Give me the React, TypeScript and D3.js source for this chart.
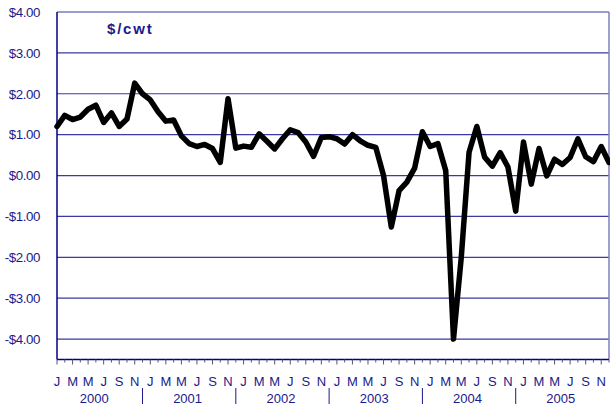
import React from "react";
import * as d3 from "d3";

const years = ["2000", "2001", "2002", "2003", "2004", "2005"];
const monthLetters = ["J", "F", "M", "A", "M", "J", "J", "A", "S", "O", "N", "D"];
const yTicks = [4, 3, 2, 1, 0, -1, -2, -3, -4];
const values = [
  1.2, 1.47, 1.37, 1.43, 1.62, 1.72, 1.3, 1.53, 1.2, 1.38, 2.26, 2.0,
  1.85, 1.56, 1.33, 1.36, 0.97, 0.78, 0.71, 0.76, 0.66, 0.32, 1.88, 0.67,
  0.72, 0.69, 1.02, 0.84, 0.65, 0.9, 1.12, 1.05, 0.82, 0.47, 0.93, 0.95,
  0.9, 0.77, 1.0, 0.85, 0.74, 0.69, 0.0, -1.26, -0.37, -0.16, 0.18, 1.07,
  0.71, 0.78, 0.12, -4.0, -2.0, 0.57, 1.2, 0.45, 0.23, 0.56, 0.21, -0.87,
  0.82, -0.21, 0.66, -0.01, 0.4, 0.27, 0.44, 0.9, 0.46, 0.34, 0.71, 0.32,
];

const W = 610, H = 407;
const left = 57, right = 609, top = 12, bottom = 359.5;
const navy = "#1a1a8a";

export default function App() {
  const n = values.length;
  const x = d3.scaleLinear().domain([0, n - 1]).range([left, right]);
  const y = d3.scaleLinear().domain([-4.5, 4]).range([bottom, top]);
  const line = d3.line<number>().x((_, i) => x(i)).y((d) => y(d)).curve(d3.curveLinear);
  const fmt = (v: number) => (v < 0 ? "-$" : "$") + Math.abs(v).toFixed(2);
  const font = "'Liberation Sans', Arial, sans-serif";

  return (
    <svg width={W} height={H} style={{ position: "absolute", left: 0, top: 0 }}>
      <rect x={0} y={0} width={W} height={H} fill="#fff" />
      {yTicks.map((t) => (
        <g key={t}>
          <line x1={left} x2={right} y1={y(t)} y2={y(t)} stroke="#3a3aa0" strokeWidth={1.2} />
          <text x={40} y={y(t)} dy="0.36em" textAnchor="end" fontFamily={font} fontSize={13.3} fill={navy} letterSpacing={-0.4}>
            {fmt(t)}
          </text>
        </g>
      ))}
      <line x1={right} x2={right} y1={top} y2={bottom} stroke="#8080c0" strokeWidth={1.5} />
      <line x1={left} x2={left} y1={top} y2={bottom} stroke="#000080" strokeWidth={1.5} />
      <line x1={left} x2={right} y1={bottom} y2={bottom} stroke="#000080" strokeWidth={1.5} />
      {values.map((_, i) => (
        <line key={"t" + i} x1={x(i)} x2={x(i)} y1={bottom} y2={bottom + (i % 2 === 0 ? 5 : 3)} stroke="#555577" strokeWidth={1} />
      ))}
      {values.map((_, i) =>
        i % 2 === 0 ? (
          <text key={"m" + i} x={x(i)} y={386} textAnchor="middle" fontFamily={font} fontSize={13} fill={navy}>
            {monthLetters[i % 12]}
          </text>
        ) : null
      )}
      {years.map((yr, k) => (
        <g key={yr}>
          <text x={x(k * 12 + 4.8)} y={402.5} textAnchor="middle" fontFamily={font} fontSize={13} fill={navy}>
            {yr}
          </text>
          {k > 0 && (
            <line x1={x(k * 12 - 1)} x2={x(k * 12 - 1)} y1={388} y2={404} stroke={navy} strokeWidth={1} />
          )}
        </g>
      ))}
      <text x={107} y={34} fontFamily={font} fontSize={15} fontWeight="bold" fill={navy} letterSpacing={1.8}>
        $/cwt
      </text>
      <path d={line(values) || ""} fill="none" stroke="#000" strokeWidth={5.5} strokeLinejoin="round" strokeLinecap="round" />
    </svg>
  );
}
